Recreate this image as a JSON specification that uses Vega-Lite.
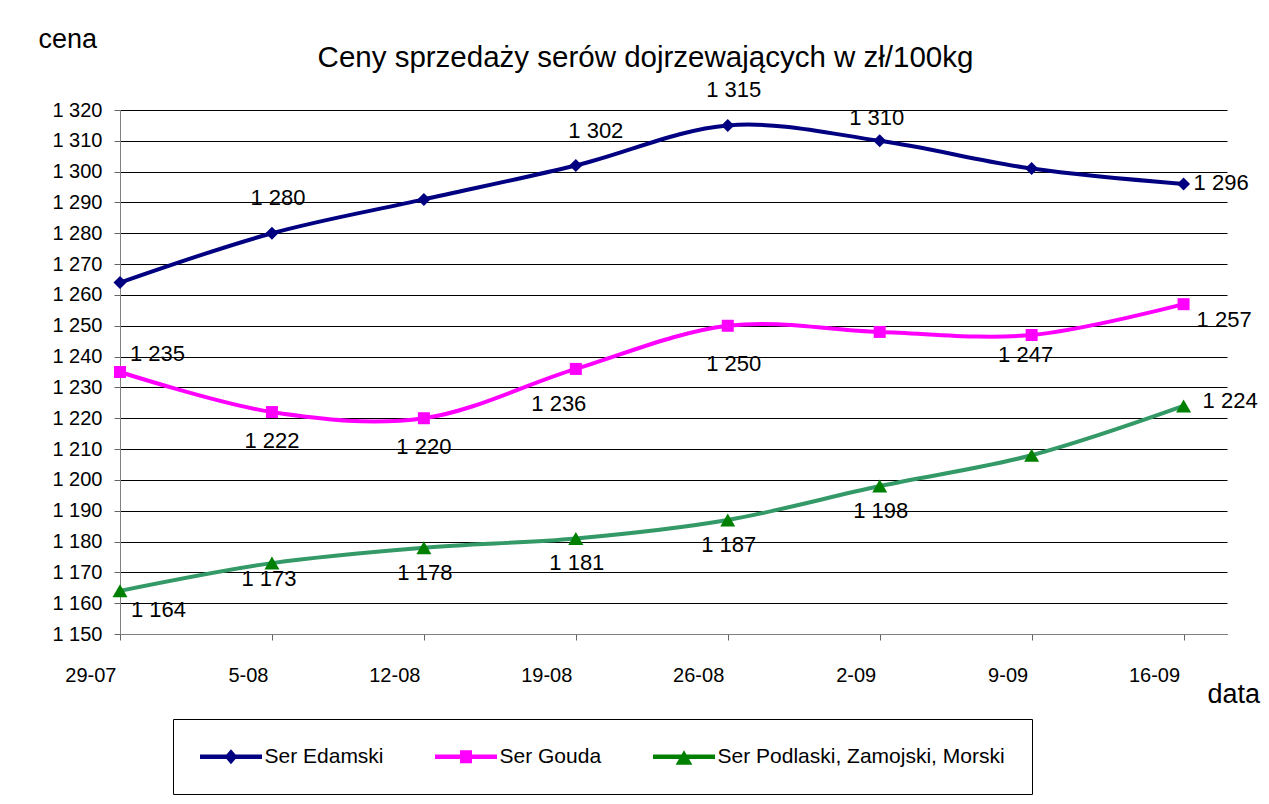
{
  "$schema": "https://vega.github.io/schema/vega-lite/v6.json",
  "width": 1107,
  "height": 524,
  "autosize": {"type": "none"},
  "padding": {"left": 120, "top": 110, "right": 42, "bottom": 170},
  "background": "white",
  "title": {
    "text": "Ceny sprzedaży serów dojrzewających w zł/100kg",
    "font": "Liberation Sans",
    "fontSize": 29.5,
    "fontWeight": "normal",
    "color": "black",
    "anchor": "middle",
    "frame": "group",
    "dx": -28,
    "baseline": "alphabetic",
    "offset": -71
  },
  "data": {
    "values": [
      {"date": "2008-07-29", "series": "Ser Edamski", "price": 1264},
      {"date": "2008-08-05", "series": "Ser Edamski", "price": 1280},
      {"date": "2008-08-12", "series": "Ser Edamski", "price": 1291},
      {"date": "2008-08-19", "series": "Ser Edamski", "price": 1302},
      {"date": "2008-08-26", "series": "Ser Edamski", "price": 1315},
      {"date": "2008-09-02", "series": "Ser Edamski", "price": 1310},
      {"date": "2008-09-09", "series": "Ser Edamski", "price": 1301},
      {"date": "2008-09-16", "series": "Ser Edamski", "price": 1296},
      {"date": "2008-07-29", "series": "Ser Gouda", "price": 1235},
      {"date": "2008-08-05", "series": "Ser Gouda", "price": 1222},
      {"date": "2008-08-12", "series": "Ser Gouda", "price": 1220},
      {"date": "2008-08-19", "series": "Ser Gouda", "price": 1236},
      {"date": "2008-08-26", "series": "Ser Gouda", "price": 1250},
      {"date": "2008-09-02", "series": "Ser Gouda", "price": 1248},
      {"date": "2008-09-09", "series": "Ser Gouda", "price": 1247},
      {"date": "2008-09-16", "series": "Ser Gouda", "price": 1257},
      {"date": "2008-07-29", "series": "Ser Podlaski, Zamojski, Morski", "price": 1164},
      {"date": "2008-08-05", "series": "Ser Podlaski, Zamojski, Morski", "price": 1173},
      {"date": "2008-08-12", "series": "Ser Podlaski, Zamojski, Morski", "price": 1178},
      {"date": "2008-08-19", "series": "Ser Podlaski, Zamojski, Morski", "price": 1181},
      {"date": "2008-08-26", "series": "Ser Podlaski, Zamojski, Morski", "price": 1187},
      {"date": "2008-09-02", "series": "Ser Podlaski, Zamojski, Morski", "price": 1198},
      {"date": "2008-09-09", "series": "Ser Podlaski, Zamojski, Morski", "price": 1208},
      {"date": "2008-09-16", "series": "Ser Podlaski, Zamojski, Morski", "price": 1224}
    ]
  },
  "transform": [
    {"calculate": "replace(format(datum.price, ','), ',', ' ')", "as": "lbl"}
  ],
  "encoding": {
    "x": {
      "field": "date",
      "type": "temporal",
      "scale": {
        "type": "utc",
        "domain": [
          {"year": 2008, "month": 7, "date": 29, "utc": true},
          {"year": 2008, "month": 9, "date": 18, "utc": true}
        ]
      },
      "axis": {
        "values": [
          {"year": 2008, "month": 7, "date": 29, "utc": true},
          {"year": 2008, "month": 8, "date": 5, "utc": true},
          {"year": 2008, "month": 8, "date": 12, "utc": true},
          {"year": 2008, "month": 8, "date": 19, "utc": true},
          {"year": 2008, "month": 8, "date": 26, "utc": true},
          {"year": 2008, "month": 9, "date": 2, "utc": true},
          {"year": 2008, "month": 9, "date": 9, "utc": true},
          {"year": 2008, "month": 9, "date": 16, "utc": true}
        ],
        "labelExpr": "utcFormat(datum.value, '%-d-%m')",
        "grid": false,
        "title": "data",
        "titleAngle": 0,
        "titleX": 1087,
        "titleY": 68,
        "titleAlign": "left",
        "titleBaseline": "alphabetic",
        "titleFontSize": 27,
        "labelAlign": "right",
        "labelOffset": -4,
        "labelBaseline": "top",
        "labelPadding": 25,
        "labelFontSize": 20,
        "labelOverlap": false,
        "labelFlush": false,
        "tickSize": 6,
        "tickColor": "#666666",
        "domainColor": "#808080"
      }
    },
    "y": {
      "field": "price",
      "type": "quantitative",
      "scale": {"domain": [1150, 1320], "nice": false, "zero": false},
      "axis": {
        "values": [1150, 1160, 1170, 1180, 1190, 1200, 1210, 1220, 1230, 1240, 1250, 1260, 1270, 1280, 1290, 1300, 1310, 1320],
        "labelExpr": "replace(format(datum.value, ','), ',', ' ')",
        "title": "cena",
        "titleAngle": 0,
        "titleX": -82,
        "titleY": -63,
        "titleAlign": "left",
        "titleBaseline": "alphabetic",
        "titleFontSize": 27,
        "labelFontSize": 20,
        "labelPadding": 12,
        "labelOverlap": false,
        "labelFlush": false,
        "tickSize": 6,
        "tickColor": "#666666",
        "domainColor": "#808080",
        "grid": true,
        "gridColor": "#000000",
        "gridWidth": 1
      }
    }
  },
  "layer": [
    {
      "transform": [{"filter": "datum.series === 'Ser Edamski'"}],
      "mark": {"type": "line", "interpolate": "cardinal", "strokeWidth": 4, "color": "#000080"}
    },
    {
      "transform": [{"filter": "datum.series === 'Ser Gouda'"}],
      "mark": {"type": "line", "interpolate": "cardinal", "strokeWidth": 4, "color": "#FF00FF"}
    },
    {
      "transform": [{"filter": "datum.series === 'Ser Podlaski, Zamojski, Morski'"}],
      "mark": {"type": "line", "interpolate": "cardinal", "strokeWidth": 4, "color": "#339966"}
    },
    {
      "transform": [{"filter": "datum.series === 'Ser Edamski'"}],
      "mark": {"type": "point", "shape": "diamond", "filled": true, "size": 169, "color": "#000080", "opacity": 1, "strokeWidth": 0}
    },
    {
      "transform": [{"filter": "datum.series === 'Ser Gouda'"}],
      "mark": {"type": "point", "shape": "square", "filled": true, "size": 144, "color": "#FF00FF", "opacity": 1, "strokeWidth": 0}
    },
    {
      "transform": [{"filter": "datum.series === 'Ser Podlaski, Zamojski, Morski'"}],
      "mark": {"type": "point", "shape": "triangle-up", "filled": true, "size": 225, "color": "#008000", "opacity": 1, "strokeWidth": 0}
    },
    {
      "mark": {"type": "point", "filled": true, "opacity": 0},
      "encoding": {
        "fill": {
          "field": "series",
          "type": "nominal",
          "scale": {
            "domain": ["Ser Edamski", "Ser Gouda", "Ser Podlaski, Zamojski, Morski"],
            "range": ["#000080", "#FF00FF", "#008000"]
          },
          "legend": {
            "orient": "none", "legendX": 53, "legendY": 609, "direction": "horizontal", "title": null,
            "padding": 27, "strokeColor": "#000000", "fillColor": "white", "columnPadding": 50,
            "symbolSize": 144, "symbolStrokeWidth": 0, "symbolOffset": 20.5, "labelOffset": 23,
            "labelFontSize": 21, "labelFont": "Liberation Sans", "labelColor": "black", "labelLimit": 400, "symbolOpacity": 1
          }
        },
        "shape": {
          "field": "series",
          "type": "nominal",
          "scale": {
            "domain": ["Ser Edamski", "Ser Gouda", "Ser Podlaski, Zamojski, Morski"],
            "range": [
              "M-5.167,-0.375L5.167,-0.375L5.167,0.375L-5.167,0.375Z M0,-1.25L1.08,0L0,1.25L-1.08,0Z",
              "M-5.167,-0.375L5.167,-0.375L5.167,0.375L-5.167,0.375Z M-1,-1.08L1,-1.08L1,1.08L-1,1.08Z",
              "M-5.167,-0.375L5.167,-0.375L5.167,0.375L-5.167,0.375Z M0,-1.07L1.39,1.33L-1.39,1.33Z"
            ]
          },
          "legend": {
            "orient": "none", "legendX": 53, "legendY": 609, "direction": "horizontal", "title": null,
            "padding": 27, "strokeColor": "#000000", "fillColor": "white", "columnPadding": 50,
            "symbolSize": 144, "symbolStrokeWidth": 0, "symbolOffset": 20.5, "labelOffset": 23,
            "labelFontSize": 21, "labelFont": "Liberation Sans", "labelColor": "black", "labelLimit": 400, "symbolOpacity": 1
          }
        }
      }
    },
    {
      "transform": [{"filter": "datum.series === 'Ser Edamski' && indexof([time('2008-08-05'), time('2008-08-26')], time(datum.date)) >= 0"}],
      "mark": {"type": "text", "dx": 6, "dy": -35, "fontSize": 22, "font": "Liberation Sans", "color": "black"},
      "encoding": {"text": {"field": "lbl"}}
    },
    {
      "transform": [{"filter": "datum.series === 'Ser Edamski' && time(datum.date) === time('2008-08-19')"}],
      "mark": {"type": "text", "dx": 20, "dy": -34, "fontSize": 22, "font": "Liberation Sans", "color": "black"},
      "encoding": {"text": {"field": "lbl"}}
    },
    {
      "transform": [{"filter": "datum.series === 'Ser Edamski' && time(datum.date) === time('2008-09-02')"}],
      "mark": {"type": "text", "dx": -3, "dy": -23, "fontSize": 22, "font": "Liberation Sans", "color": "black"},
      "encoding": {"text": {"field": "lbl"}}
    },
    {
      "transform": [{"filter": "datum.series === 'Ser Edamski' && time(datum.date) === time('2008-09-16')"}],
      "mark": {"type": "text", "align": "left", "dx": 10, "dy": -1, "fontSize": 22, "font": "Liberation Sans", "color": "black"},
      "encoding": {"text": {"field": "lbl"}}
    },
    {
      "transform": [{"filter": "datum.series === 'Ser Gouda' && time(datum.date) === time('2008-09-16')"}],
      "mark": {"type": "text", "align": "left", "dx": 13, "dy": 16, "fontSize": 22, "font": "Liberation Sans", "color": "black"},
      "encoding": {"text": {"field": "lbl"}}
    },
    {
      "transform": [{"filter": "datum.series === 'Ser Podlaski, Zamojski, Morski' && time(datum.date) === time('2008-09-16')"}],
      "mark": {"type": "text", "align": "left", "dx": 19, "dy": -5, "fontSize": 22, "font": "Liberation Sans", "color": "black"},
      "encoding": {"text": {"field": "lbl"}}
    },
    {
      "transform": [{"filter": "datum.series === 'Ser Gouda' && time(datum.date) === time('2008-07-29')"}],
      "mark": {"type": "text", "align": "left", "dx": 10, "dy": -18, "fontSize": 22, "font": "Liberation Sans", "color": "black"},
      "encoding": {"text": {"field": "lbl"}}
    },
    {
      "transform": [{"filter": "datum.series === 'Ser Podlaski, Zamojski, Morski' && time(datum.date) === time('2008-07-29')"}],
      "mark": {"type": "text", "align": "left", "dx": 11, "dy": 19, "fontSize": 22, "font": "Liberation Sans", "color": "black"},
      "encoding": {"text": {"field": "lbl"}}
    },
    {
      "transform": [{"filter": "datum.series === 'Ser Gouda' && indexof([time('2008-08-05'), time('2008-08-12')], time(datum.date)) >= 0"}],
      "mark": {"type": "text", "dx": 0, "dy": 29, "fontSize": 22, "font": "Liberation Sans", "color": "black"},
      "encoding": {"text": {"field": "lbl"}}
    },
    {
      "transform": [{"filter": "datum.series === 'Ser Podlaski, Zamojski, Morski' && indexof([time('2008-08-12'), time('2008-08-19'), time('2008-08-26'), time('2008-09-02')], time(datum.date)) >= 0"}],
      "mark": {"type": "text", "dx": 1, "dy": 25, "fontSize": 22, "font": "Liberation Sans", "color": "black"},
      "encoding": {"text": {"field": "lbl"}}
    },
    {
      "transform": [{"filter": "datum.series === 'Ser Podlaski, Zamojski, Morski' && time(datum.date) === time('2008-08-05')"}],
      "mark": {"type": "text", "dx": -3, "dy": 16, "fontSize": 22, "font": "Liberation Sans", "color": "black"},
      "encoding": {"text": {"field": "lbl"}}
    },
    {
      "transform": [{"filter": "datum.series === 'Ser Gouda' && time(datum.date) === time('2008-08-19')"}],
      "mark": {"type": "text", "dx": -17, "dy": 35, "fontSize": 22, "font": "Liberation Sans", "color": "black"},
      "encoding": {"text": {"field": "lbl"}}
    },
    {
      "transform": [{"filter": "datum.series === 'Ser Gouda' && time(datum.date) === time('2008-08-26')"}],
      "mark": {"type": "text", "dx": 6, "dy": 38, "fontSize": 22, "font": "Liberation Sans", "color": "black"},
      "encoding": {"text": {"field": "lbl"}}
    },
    {
      "transform": [{"filter": "datum.series === 'Ser Gouda' && time(datum.date) === time('2008-09-09')"}],
      "mark": {"type": "text", "dx": -6, "dy": 20, "fontSize": 22, "font": "Liberation Sans", "color": "black"},
      "encoding": {"text": {"field": "lbl"}}
    }
  ],
  "config": {
    "view": {"stroke": null},
    "font": "Liberation Sans",
    "axis": {
      "labelFont": "Liberation Sans",
      "titleFont": "Liberation Sans",
      "labelColor": "black",
      "titleColor": "black",
      "titleFontWeight": "normal"
    }
  }
}
